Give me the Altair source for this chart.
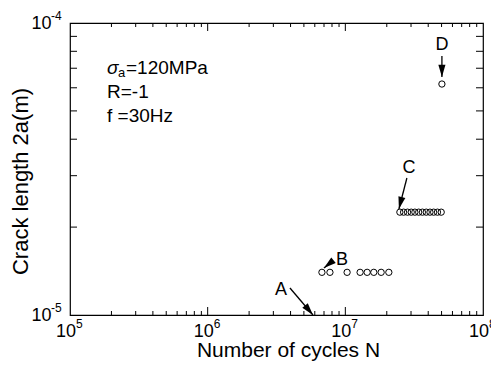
import altair as alt
import pandas as pd

# ---------------- data ----------------
# stage B (crack 2a ~ 1.4e-5 m)
b_cycles = [6.76e6, 7.73e6, 1.03e7, 1.28e7, 1.44e7, 1.61e7, 1.82e7, 2.07e7]
b_crack = [1.40e-5, 1.40e-5, 1.40e-5, 1.40e-5, 1.40e-5, 1.40e-5, 1.40e-5, 1.40e-5]
# stage C (crack 2a ~ 2.25e-5 m)
c_cycles = [2.49e7, 2.65e7, 2.83e7, 3.01e7, 3.20e7, 3.41e7, 3.63e7, 3.87e7,
            4.12e7, 4.38e7, 4.67e7, 4.97e7]
c_crack = [2.25e-5, 2.25e-5, 2.25e-5, 2.25e-5, 2.25e-5, 2.25e-5, 2.25e-5, 2.25e-5,
           2.25e-5, 2.25e-5, 2.25e-5, 2.25e-5]
# stage D
d_cycles = [5.03e7]
d_crack = [6.18e-5]

# annotation letters and arrows (data coordinates)
lab_text = ["A", "B", "C", "D"]
lab_x = [3.41e6, 9.45e6, 2.90e7, 5.03e7]
lab_y = [1.218e-5, 1.543e-5, 3.187e-5, 8.41e-5]
arr_x1 = [3.96e6, 8.13e6, 2.80e7, 5.03e7]
arr_y1 = [1.237e-5, 1.531e-5, 2.946e-5, 7.71e-5]
arr_x2 = [5.82e6, 6.99e6, 2.45e7, 5.03e7]
arr_y2 = [1.00e-5, 1.449e-5, 2.307e-5, 6.53e-5]
arr_angle = [140, 231, 194, 180]

# condition text
cond_x = [1.857e5, 1.857e5, 1.857e5]
cond_y = [7.01e-5, 5.80e-5, 4.80e-5]

# axis labels
x_major = [1e5, 1e6, 1e7, 1e8]
x_exp = ["5", "6", "7", "8"]
y_major = [1e-5, 1e-4]
y_exp = ["-5", "-4"]
mult = [2, 3, 4, 5, 6, 7, 8, 9]
x_minor = [m * d for d in [1e5, 1e6, 1e7] for m in mult]
x_inner_major = [1e6, 1e7]
y_minor = [m * 1e-5 for m in mult]

FONT = "Liberation Sans"
X_TITLE = "Number of cycles N"
Y_TITLE = "Crack length 2a(m)"

x_axis = alt.Axis(values=x_major, labels=False,
                  ticks=False, domain=False, grid=False,
                  titleFont=FONT, titleFontSize=21, titleFontWeight="normal",
                  titleColor="black", titleX=218, titleY=35,
                  titleBaseline="middle")
y_axis = alt.Axis(values=y_major, labelExpr="'10'",
                  ticks=False, domain=False, grid=False, labelFlush=False,
                  labelOverlap=False, labelFont=FONT, labelFontSize=18,
                  labelColor="black", labelPadding=19,
                  titleFont=FONT, titleFontSize=22, titleFontWeight="normal",
                  titleColor="black", titleX=-50, titleY=158,
                  titleBaseline="middle", titleAlign="center")


def X(field):
    return alt.X(field, scale=alt.Scale(type="log", domain=[1e5, 1e8], nice=False),
                 axis=x_axis, title=X_TITLE)


def Y(field):
    return alt.Y(field, scale=alt.Scale(type="log", domain=[1e-5, 1e-4], nice=False),
                 axis=y_axis, title=Y_TITLE)


pts = pd.DataFrame({
    "N": b_cycles + c_cycles + d_cycles,
    "a": b_crack + c_crack + d_crack,
})

points = alt.Chart(pts).mark_point(
    shape="circle", size=40, filled=False, color="black", strokeWidth=1, opacity=1
).encode(x=X("N:Q"), y=Y("a:Q"))

arr = pd.DataFrame({"x1": arr_x1, "y1": arr_y1, "x2": arr_x2, "y2": arr_y2,
                    "ang": arr_angle, "t": lab_text, "lx": lab_x, "ly": lab_y})

arrow_lines = alt.Chart(arr).mark_rule(color="black", strokeWidth=1.3).encode(
    x=X("x1:Q"), y=Y("y1:Q"), x2="x2:Q", y2="y2:Q",
)
arrow_heads = alt.Chart(arr).mark_point(
    shape="M0,0L-1.3,4.5L1.3,4.5Z", size=30, filled=True, color="black",
    opacity=1, strokeWidth=0
).encode(
    x=X("x2:Q"), y=Y("y2:Q"),
    angle=alt.Angle("ang:Q", scale=alt.Scale(domain=[0, 360], range=[0, 360])),
)
letters = alt.Chart(arr).mark_text(
    font=FONT, fontSize=18, color="black", align="center", baseline="middle"
).encode(x=X("lx:Q"), y=Y("ly:Q"), text="t:N")

# x tick labels: "10" plus superscript exponent
xlab = pd.DataFrame({"v": x_major, "c": [1e-5] * len(x_major), "e": x_exp,
                     "b": ["10"] * len(x_major)})
x_base = alt.Chart(xlab).mark_text(font=FONT, fontSize=18, color="black",
                                   align="center", baseline="top", dx=-4, dy=8).encode(
    x=X("v:Q"), y=Y("c:Q"), text="b:N")
x_sup = alt.Chart(xlab).mark_text(font=FONT, fontSize=12, color="black",
                                  align="left", baseline="top", dx=6, dy=4).encode(
    x=X("v:Q"), y=Y("c:Q"), text="e:N")
ysup = pd.DataFrame({"v": y_major, "c": [1e5] * len(y_major), "e": y_exp})
y_sup = alt.Chart(ysup).mark_text(font=FONT, fontSize=12, color="black",
                                  align="left", baseline="middle", dx=-19, dy=-7).encode(
    y=Y("v:Q"), x=X("c:Q"), text="e:N")

cond = pd.DataFrame({"x": cond_x, "y": cond_y})
c0 = cond.iloc[[0]]
sigma = alt.Chart(c0).mark_text(font=FONT, fontSize=19, fontStyle="italic", color="black",
                                align="left", baseline="middle").encode(
    x=X("x:Q"), y=Y("y:Q"), text=alt.value("σ"))
sub_a = alt.Chart(c0).mark_text(font=FONT, fontSize=13, color="black",
                                align="left", baseline="middle", dx=11, dy=5).encode(
    x=X("x:Q"), y=Y("y:Q"), text=alt.value("a"))
rest0 = alt.Chart(c0).mark_text(font=FONT, fontSize=19, color="black",
                                align="left", baseline="middle", dx=19).encode(
    x=X("x:Q"), y=Y("y:Q"), text=alt.value("=120MPa"))
cond_rest = pd.DataFrame({"x": cond_x[1:], "y": cond_y[1:], "t": ["R=-1", "f =30Hz"]})
rest12 = alt.Chart(cond_rest).mark_text(font=FONT, fontSize=19, color="black",
                                        align="left", baseline="middle").encode(
    x=X("x:Q"), y=Y("y:Q"), text="t:N")


def tick_layer(vals, const, along, length, edge_sign):
    df = pd.DataFrame({"v": vals, "c": [const] * len(vals)})
    if along == "x":
        return alt.Chart(df).mark_tick(orient="vertical", size=length, thickness=1,
                                       color="black", opacity=1,
                                       yOffset=edge_sign * length / 2).encode(
            x=X("v:Q"), y=Y("c:Q"))
    return alt.Chart(df).mark_tick(orient="horizontal", size=length, thickness=1,
                                   color="black", opacity=1,
                                   xOffset=edge_sign * length / 2).encode(
        y=Y("v:Q"), x=X("c:Q"))


ticks = [
    tick_layer(x_minor, 1e-5, "x", 4, -1),
    tick_layer(x_inner_major, 1e-5, "x", 8, -1),
    tick_layer(x_minor, 1e-4, "x", 4, 1),
    tick_layer(x_inner_major, 1e-4, "x", 8, 1),
    tick_layer(y_minor, 1e5, "y", 7, 1),
    tick_layer(y_minor, 1e8, "y", 7, -1),
]

chart = alt.layer(points, *ticks, arrow_lines, arrow_heads, letters, x_base, x_sup,
                  y_sup, sigma, sub_a, rest0, rest12).properties(
    width=413, height=292,
    autosize="none",
    padding={"left": 62, "top": 15, "right": 8, "bottom": 46},
    background="white",
).configure_view(stroke="black", strokeWidth=1.2)

chart.save("out.html", embed_options={"renderer": "svg", "actions": False})
